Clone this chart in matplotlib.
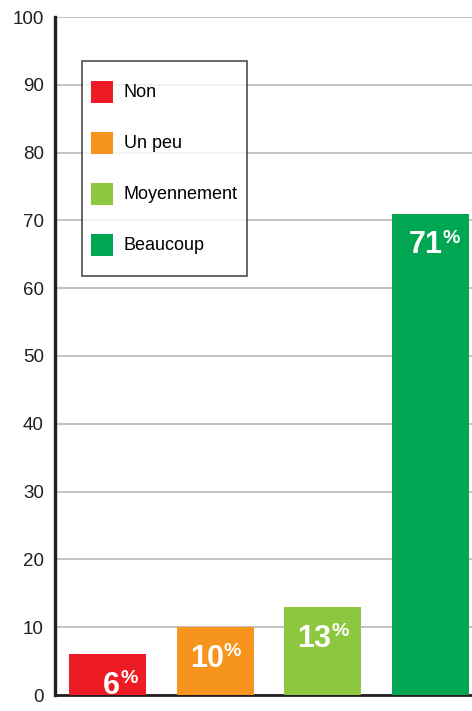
import matplotlib
matplotlib.use("Agg")
import matplotlib.pyplot as plt
from matplotlib.patches import Patch, Rectangle
from matplotlib.legend_handler import HandlerPatch

# ===================== données =====================
categories = ["Non", "Un peu", "Moyennement", "Beaucoup"]
values = [6, 10, 13, 71]
colors = ["#ED1C24", "#F7941D", "#8DC63F", "#00A651"]
yticks = list(range(0, 101, 10))

plt.rcParams["font.family"] = ["Liberation Sans Narrow", "Liberation Sans", "DejaVu Sans"]

fig = plt.figure(figsize=(4.72, 7.11), dpi=100)
ax = fig.add_axes([55 / 472, 16 / 711, 1 - 55 / 472, 678 / 711])

x = list(range(len(categories)))
bars = ax.bar(x, values, width=0.715, color=colors, zorder=3)

ax.set_xlim(-0.49, 3.385)
ax.set_ylim(0, 100)
ax.set_yticks(yticks)
ax.set_xticks([])
ax.tick_params(axis="y", length=0, pad=8, labelsize=13.5, labelcolor="#231F20")
ax.yaxis.grid(True, color="#BDBDBD", linewidth=1.3, zorder=0)

for s in ["top", "right"]:
    ax.spines[s].set_visible(False)
ax.spines["left"].set_linewidth(2.4)
ax.spines["left"].set_color("#231F20")
ax.spines["bottom"].set_linewidth(2)
ax.spines["bottom"].set_color("#231F20")
ax.spines["left"].set_zorder(4)

# étiquettes blanches dans les barres
dx = [0.115, 0.08, 0.08, 0.115]
for xi, v, d in zip(x, values, dx):
    ax.annotate(str(v), (xi + d, v), xytext=(0, -12), textcoords="offset points",
                ha="right", va="top", color="white", fontsize=22, fontweight="bold", zorder=5)
    ax.annotate("%", (xi + d, v), xytext=(0, -11.5), textcoords="offset points",
                ha="left", va="top", color="white", fontsize=14, fontweight="bold", zorder=5)


# carré centré dans une case de légende plus haute
def square(legend, orig_handle, xdescent, ydescent, width, height, fontsize):
    return Rectangle((-xdescent, -ydescent + (height - width) / 2), width, width)


handles = [Patch(facecolor=c, edgecolor="none", label=l) for c, l in zip(colors, categories)]
leg = ax.legend(handles=handles, loc="upper left", bbox_to_anchor=(0.065, 0.935),
                borderaxespad=0, fontsize=13, frameon=True, fancybox=False,
                handlelength=1.2, handleheight=3.37, handletextpad=0.6,
                labelspacing=0.39, borderpad=0.5,
                handler_map={Patch: HandlerPatch(patch_func=square)})
leg.get_frame().set_edgecolor("#231F20")
leg.get_frame().set_linewidth(1.2)
leg.set_zorder(6)

fig.savefig("out.png", dpi=100)
